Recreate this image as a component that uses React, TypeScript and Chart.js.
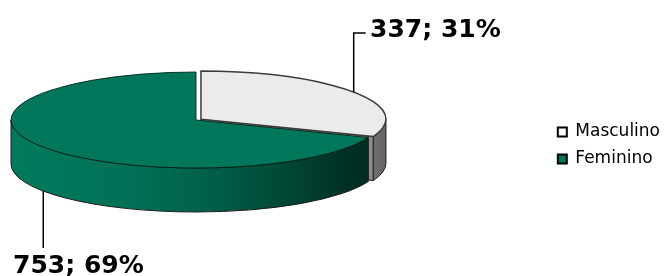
import React, { useEffect, useRef } from 'react';
import { Chart, registerables } from 'chart.js';

Chart.register(...registerables);

// ---- data ----
const categories = ['Masculino', 'Feminino'];
const values = [337, 753];
const explode = [24, 0];

// ---- styles / layout ----
const topColors = ['#EBEBEB', '#00765A'];
const legendColors = ['#FFFFFF', '#00765A'];
const W = 666;
const H = 276;
const PIE_CX = 196;
const PIE_CY = 120;
const RX = 185;
const RY = 48;
const DEPTH = 44;
const K = RY / RX;
// label layout
const labelLayout = [
  { tx: 370, ty: 37, ly: 33, hook: 12 },
  { tx: 13, ty: 273, ly: 248, hook: 0 },
];

function shiftOf(el: any) {
  const off = ((el.options && el.options.offset) || 0) / 4;
  const mid = (el.startAngle + el.endAngle) / 2;
  return { dx: Math.cos(mid) * off, dy: Math.sin(mid) * off * K };
}

function frontRanges(a: number, b: number) {
  const out: [number, number][] = [];
  for (let k = -2; k <= 2; k++) {
    const lo = Math.max(a, 2 * Math.PI * k);
    const hi = Math.min(b, 2 * Math.PI * k + Math.PI);
    if (hi - lo > 1e-4) out.push([lo, hi]);
  }
  return out;
}

function sidePath(ctx: CanvasRenderingContext2D, cx: number, cy: number, a: number, b: number) {
  ctx.beginPath();
  ctx.ellipse(cx, cy, RX, RY, 0, a, b, false);
  ctx.ellipse(cx, cy + DEPTH, RX, RY, 0, b, a, true);
  ctx.closePath();
}

function cutPath(ctx: CanvasRenderingContext2D, cx: number, cy: number, t: number) {
  const px = cx + RX * Math.cos(t);
  const py = cy + RY * Math.sin(t);
  ctx.beginPath();
  ctx.moveTo(cx, cy);
  ctx.lineTo(px, py);
  ctx.lineTo(px, py + DEPTH);
  ctx.lineTo(cx, cy + DEPTH);
  ctx.closePath();
}

function sideFill(ctx: CanvasRenderingContext2D, i: number, cx: number) {
  if (i === 0) {
    const g = ctx.createLinearGradient(cx + RX * 0.9, 0, cx + RX, 0);
    g.addColorStop(0, '#767676');
    g.addColorStop(1, '#646464');
    return g;
  }
  const g = ctx.createLinearGradient(cx - RX, 0, cx + RX, 0);
  g.addColorStop(0, '#007A5C');
  g.addColorStop(0.3, '#007257');
  g.addColorStop(0.55, '#005E47');
  g.addColorStop(0.75, '#004634');
  g.addColorStop(0.9, '#003124');
  g.addColorStop(1, '#002C20');
  return g;
}

const pie3d = {
  id: 'pie3d',
  beforeDatasetsDraw(chart: any) {
    const ctx: CanvasRenderingContext2D = chart.ctx;
    const arcs = chart.getDatasetMeta(0).data;
    if (!arcs.length) return;
    ctx.save();
    arcs.forEach((el: any, i: number) => {
      const { dx, dy } = shiftOf(el);
      const cx = PIE_CX + dx;
      const cy = PIE_CY + dy;
      const faces: number[] = [];
      if (Math.cos(el.endAngle) > 0.01) faces.push(el.endAngle);
      if (Math.cos(el.startAngle) < -0.01) faces.push(el.startAngle);
      faces.forEach((t) => {
        cutPath(ctx, cx, cy, t);
        ctx.fillStyle = i === 0 ? '#8C8C8C' : '#004A37';
        ctx.fill();
        ctx.strokeStyle = '#2A2A2A';
        ctx.lineWidth = 1;
        ctx.stroke();
      });
    });
    arcs.forEach((el: any, i: number) => {
      const { dx, dy } = shiftOf(el);
      const cx = PIE_CX + dx;
      const cy = PIE_CY + dy;
      frontRanges(el.startAngle, el.endAngle).forEach(([a, b]) => {
        sidePath(ctx, cx, cy, a, b);
        ctx.fillStyle = sideFill(ctx, i, cx);
        ctx.fill();
        ctx.strokeStyle = '#1E1E1E';
        ctx.lineWidth = 1;
        ctx.stroke();
      });
    });
    ctx.restore();
    const el0 = arcs[0];
    ctx.save();
    ctx.translate(PIE_CX, PIE_CY);
    ctx.scale(1, K);
    ctx.translate(-el0.x, -el0.y);
  },
  afterDatasetsDraw(chart: any) {
    const ctx: CanvasRenderingContext2D = chart.ctx;
    const arcs = chart.getDatasetMeta(0).data;
    if (!arcs.length) return;
    ctx.restore();
    ctx.save();
    arcs.forEach((el: any, i: number) => {
      const { dx, dy } = shiftOf(el);
      const cx = PIE_CX + dx;
      const cy = PIE_CY + dy;
      ctx.beginPath();
      ctx.moveTo(cx, cy);
      ctx.ellipse(cx, cy, RX, RY, 0, el.startAngle, el.endAngle, false);
      ctx.closePath();
      ctx.strokeStyle = i === 0 ? '#3C3C3C' : 'rgba(0,30,20,0.85)';
      ctx.lineWidth = i === 0 ? 1.5 : 1;
      ctx.stroke();
    });
    ctx.restore();
  },
  afterDraw(chart: any) {
    const ctx: CanvasRenderingContext2D = chart.ctx;
    const arcs = chart.getDatasetMeta(0).data;
    if (!arcs.length) return;
    const total = values.reduce((s, v) => s + v, 0);
    ctx.save();
    arcs.forEach((el: any, i: number) => {
      const { dx, dy } = shiftOf(el);
      const mid = (el.startAngle + el.endAngle) / 2;
      const s = Math.sin(mid);
      const px = PIE_CX + dx + RX * Math.cos(mid);
      const py = PIE_CY + dy + RY * s + (s > 0 ? DEPTH : 0);
      const L = labelLayout[i];
      ctx.beginPath();
      ctx.moveTo(px, py);
      ctx.lineTo(px, L.ly);
      if (L.hook) ctx.lineTo(px + L.hook, L.ly);
      ctx.strokeStyle = '#000';
      ctx.lineWidth = 1.5;
      ctx.stroke();
      const v = values[i];
      const txt = `${v}; ${Math.round((v / total) * 100)}%`;
      ctx.font = 'bold 25px "DejaVu Sans", Verdana, sans-serif';
      ctx.fillStyle = '#000';
      ctx.textAlign = 'left';
      ctx.textBaseline = 'alphabetic';
      ctx.fillText(txt, L.tx, L.ty);
    });
    ctx.restore();
  },
};

export default function App() {
  const ref = useRef<HTMLCanvasElement | null>(null);
  useEffect(() => {
    document.body.style.margin = '0';
    const canvas = ref.current;
    if (!canvas) return;
    const chart = new Chart(canvas, {
      type: 'pie',
      data: {
        labels: categories,
        datasets: [
          {
            data: values,
            backgroundColor: topColors,
            borderWidth: 0,
            offset: explode,
            clip: false,
          } as any,
        ],
      },
      options: {
        responsive: false,
        animation: false,
        events: [],
        radius: RX,
        layout: { padding: { top: 15, right: -4, bottom: 0, left: 0 } },
        plugins: {
          tooltip: { enabled: false },
          legend: {
            display: true,
            position: 'right',
            align: 'center',
            labels: {
              color: '#000',
              font: { family: '"DejaVu Sans", Tahoma, Verdana, sans-serif', size: 17 },
              boxWidth: 9,
              boxHeight: 9,
              padding: 10,
              generateLabels: () =>
                categories.map((text, i) => ({
                  text,
                  fillStyle: legendColors[i],
                  strokeStyle: '#000',
                  lineWidth: 2,
                  hidden: false,
                  index: i,
                  fontColor: '#000',
                })),
            },
          },
        },
      } as any,
      plugins: [pie3d],
    });
    return () => chart.destroy();
  }, []);
  return (
    <div style={{ position: 'fixed', left: 0, top: 0, width: W, height: H, background: '#fff' }}>
      <canvas ref={ref} width={W} height={H} style={{ width: W, height: H, display: 'block' }} />
    </div>
  );
}
